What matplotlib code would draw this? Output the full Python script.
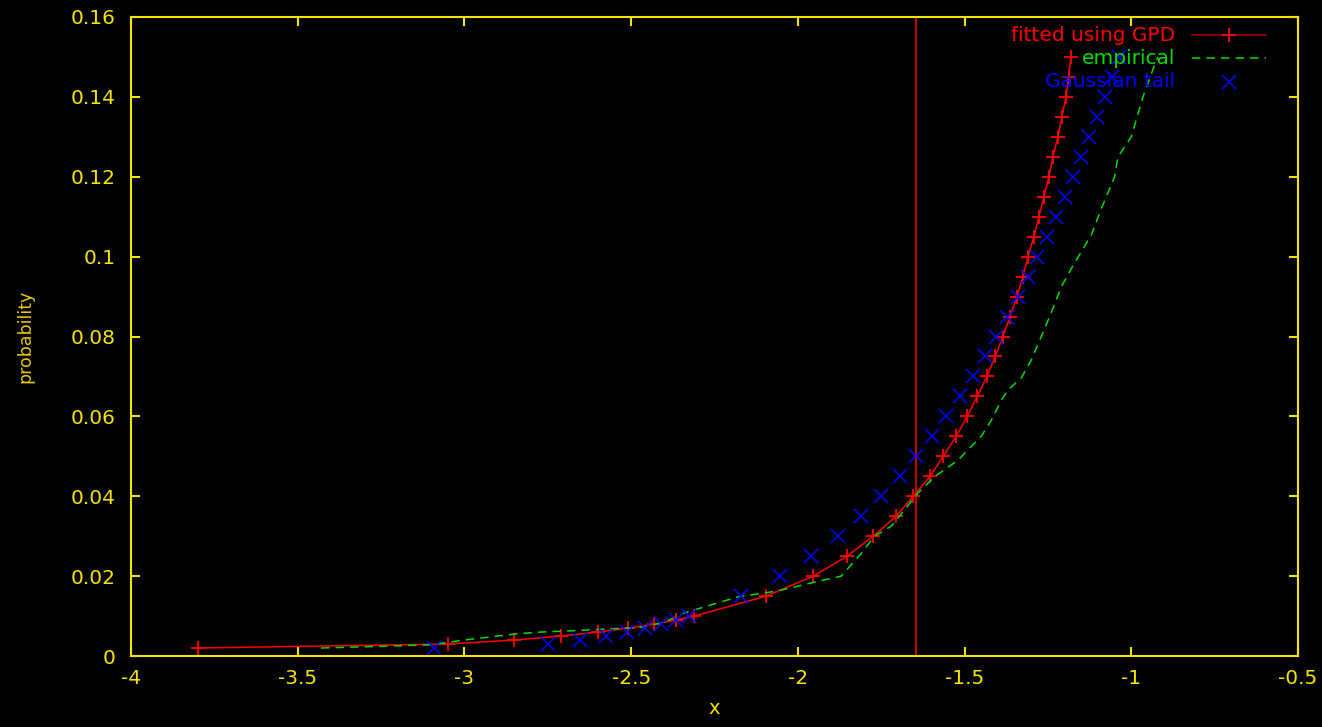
import matplotlib
matplotlib.use("Agg")
import matplotlib.pyplot as plt
from matplotlib.lines import Line2D
from matplotlib.ticker import FormatStrFormatter

# --- datos ---
gpd_x = [-3.80, -3.05, -2.85, -2.71, -2.60, -2.51, -2.43, -2.365, -2.31,
         -2.095, -1.954, -1.852, -1.774, -1.705, -1.654, -1.603, -1.564,
         -1.525, -1.492, -1.462, -1.433, -1.408, -1.385, -1.364, -1.343,
         -1.325, -1.310, -1.292, -1.277, -1.262, -1.247, -1.235, -1.220,
         -1.208, -1.196, -1.188, -1.181]
gpd_y = [0.002, 0.003, 0.004, 0.005, 0.006, 0.007, 0.008, 0.009, 0.010,
         0.015, 0.020, 0.025, 0.030, 0.035, 0.040, 0.045, 0.050,
         0.055, 0.060, 0.065, 0.070, 0.075, 0.080, 0.085, 0.090,
         0.095, 0.100, 0.105, 0.110, 0.115, 0.120, 0.125, 0.130,
         0.135, 0.140, 0.145, 0.150]

emp_x = [-3.43, -3.10, -3.00, -2.85, -2.77, -2.68, -2.51, -2.46, -2.40,
         -2.34, -2.18, -2.06, -1.95, -1.87, -1.81, -1.77, -1.72, -1.68,
         -1.64, -1.59, -1.52, -1.49, -1.45, -1.42, -1.39, -1.37, -1.33,
         -1.30, -1.27, -1.24, -1.21, -1.18, -1.12, -1.09, -1.05, -1.04,
         -1.00, -0.965, -0.93, -0.92]
emp_y = [0.0020, 0.0028, 0.0040, 0.0055, 0.0060, 0.0063, 0.0070, 0.0073, 0.0085,
         0.0108, 0.0148, 0.0163, 0.0185, 0.0200, 0.0257, 0.0300, 0.0325, 0.0366,
         0.0408, 0.0449, 0.0490, 0.0516, 0.0550, 0.0590, 0.0640, 0.0666, 0.0696,
         0.0741, 0.0800, 0.0860, 0.0924, 0.0970, 0.1054, 0.1120, 0.1200, 0.1250,
         0.1300, 0.1400, 0.1480, 0.1500]

gauss_x = [-3.090, -2.749, -2.652, -2.576, -2.512, -2.457, -2.409, -2.366, -2.326,
           -2.170, -2.054, -1.960, -1.881, -1.812, -1.751, -1.695, -1.645,
           -1.598, -1.555, -1.514, -1.476, -1.440, -1.405, -1.372, -1.341,
           -1.311, -1.282, -1.254, -1.227, -1.200, -1.175, -1.150, -1.126,
           -1.103, -1.080, -1.058, -1.036]
gauss_y = [0.002, 0.003, 0.004, 0.005, 0.006, 0.007, 0.008, 0.009, 0.010,
           0.015, 0.020, 0.025, 0.030, 0.035, 0.040, 0.045, 0.050,
           0.055, 0.060, 0.065, 0.070, 0.075, 0.080, 0.085, 0.090,
           0.095, 0.100, 0.105, 0.110, 0.115, 0.120, 0.125, 0.130,
           0.135, 0.140, 0.145, 0.150]

umbral = -1.645

x_ticks = [-4, -3.5, -3, -2.5, -2, -1.5, -1, -0.5]
y_ticks = [0, 0.02, 0.04, 0.06, 0.08, 0.1, 0.12, 0.14, 0.16]

etiquetas = ["fitted using GPD", "empirical", "Gaussian tail"]

# --- estilo ---
amarillo = "#f5e400"
rojo = "#ff0000"
verde = "#00dd00"
azul = "#0000ff"
plt.rcParams['font.family'] = ['DejaVu Sans']

fig = plt.figure(figsize=(13.22, 7.27), dpi=100, facecolor="black")
ax = fig.add_axes([131 / 1322, 71 / 727, 1167 / 1322, 639 / 727])
ax.set_facecolor("black")

ax.axvline(umbral, color=rojo, linewidth=1.1)
ax.plot(gpd_x, gpd_y, color=rojo, linewidth=1.1, marker="+", markersize=10,
        markeredgewidth=1.3)
ax.plot(emp_x, emp_y, color=verde, linewidth=1.1, linestyle=(0, (5.5, 4)))
ax.plot(gauss_x, gauss_y, linestyle="none", color=azul, marker="x",
        markersize=9.5, markeredgewidth=1.1)

ax.set_xlim(-4, -0.5)
ax.set_ylim(0, 0.16)
ax.set_xticks(x_ticks)
ax.set_yticks(y_ticks)
ax.xaxis.set_major_formatter(FormatStrFormatter('%g'))
ax.yaxis.set_major_formatter(FormatStrFormatter('%g'))

for s in ax.spines.values():
    s.set_color(amarillo)
    s.set_linewidth(1.5)
ax.tick_params(direction="in", top=True, right=True, length=6.5, width=1.5,
               color=amarillo, labelcolor=amarillo, labelsize=14.5)
ax.tick_params(axis="y", pad=11)
ax.tick_params(axis="x", pad=9)

ax.set_xlabel("x", color=amarillo, fontsize=14, labelpad=8)
ax.set_ylabel("probability", color="#e6c800", fontsize=12.5, labelpad=26)

# leyenda estilo gnuplot (texto a la derecha alineado, muestra a la derecha)
colores = [rojo, verde, azul]
filas_y = [0.9718, 0.9358, 0.8990]
for texto, c, yy in zip(etiquetas, colores, filas_y):
    ax.text(0.8946, yy, texto, color=c, fontsize=14.5, ha="right", va="center",
            transform=ax.transAxes)
ax.add_line(Line2D([0.909, 0.9726], [filas_y[0]] * 2, color="#b00000",
                   linewidth=1.1, transform=ax.transAxes))
ax.add_line(Line2D([0.941], [filas_y[0]], color=rojo, marker="+", markersize=10,
                   markeredgewidth=1.3, transform=ax.transAxes))
ax.add_line(Line2D([0.909, 0.9726], [filas_y[1]] * 2, color=verde, linewidth=1.1,
                   linestyle=(0, (5.5, 4)), transform=ax.transAxes))
ax.add_line(Line2D([0.941], [filas_y[2]], color=azul, marker="x", markersize=9.5,
                   markeredgewidth=1.1, linestyle="none", transform=ax.transAxes))

fig.savefig("out.png", dpi=100, facecolor="black")
